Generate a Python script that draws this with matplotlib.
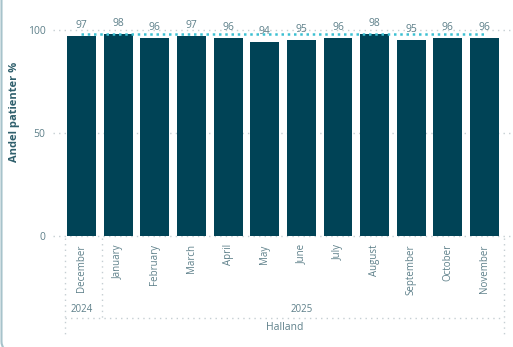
import matplotlib.pyplot as plt
import matplotlib.patches as patches
import matplotlib.transforms as mtransforms

months = ['December', 'January', 'February', 'March', 'April', 'May', 'June',
          'July', 'August', 'September', 'October', 'November']
years = ['2024', '2025']
year_sizes = [1, 11]
values = [97, 98, 96, 97, 96, 94, 95, 96, 98, 95, 96, 96]
target = [98] * 12
region = 'Halland'

W, H = 513, 347
bar_color = '#004356'
text_color = '#5e808a'
grid_color = '#c5ced2'

plt.rcParams['font.family'] = ['Open Sans', 'DejaVu Sans']

fig = plt.figure(figsize=(W / 100, H / 100), dpi=100)

# axes placed in pixel units of the reference
x0, x1 = 65, 504
y0, y1 = 236, 30
ax = fig.add_axes([x0 / W, (H - y0) / H, (x1 - x0) / W, (y0 - y1) / H])
ax.set_xlim(-0.45, 11.53)
ax.set_ylim(0, 100)
for s in ax.spines.values():
    s.set_visible(False)

xs = list(range(len(months)))
bars = ax.bar(xs, values, width=0.79, color=bar_color, zorder=3)

# gridlines running out past the axes
blend = mtransforms.blended_transform_factory(ax.transAxes, ax.transData)
for gy in [0, 50, 100]:
    ax.plot([-12 / (x1 - x0), (W - x0) / (x1 - x0)], [gy, gy], transform=blend,
            ls=(0, (1, 3)), lw=1, color=grid_color, clip_on=False, zorder=1)

# target line
ax.plot(xs, target, ls=(0, (1, 1.5)), lw=1.8, color='#3cc0d2', zorder=4,
        clip_on=False)

for x, v in zip(xs, values):
    ax.annotate(str(v), (x, v), xytext=(0, 4), textcoords='offset points',
                ha='center', va='bottom', fontsize=7.5, color=text_color,
                annotation_clip=False)

ax.set_yticks([0, 50, 100])
ax.set_yticklabels(['0', '50', '100'], fontsize=7.5, color=text_color)
ax.tick_params(axis='y', length=0, pad=14)
ax.set_xticks(xs)
ax.set_xticklabels(months, rotation=90, fontsize=7, color=text_color, va='top')
ax.tick_params(axis='x', length=0, pad=6)

fig.text(15 / W, 1 - 112 / H, 'Andel patienter %', rotation=90, ha='center',
         va='center', fontsize=8, fontweight='bold', color='#2f5f6c')

# hierarchy lines below the axis (pixel coordinates)
def px_line(xa, ya, xb, yb):
    fig.add_artist(plt.Line2D([xa / W, xb / W], [1 - ya / H, 1 - yb / H],
                              ls=(0, (1, 3)), lw=1, color=grid_color))

px_line(x0, 238, x0, 337)
px_line(101.5, 238, 101.5, 318)
px_line(x1, 238, x1, 337)
px_line(x0, 318, x1, 318)

# year labels centred under their months
step = (x1 - x0) / (11.53 + 0.45)
start = 0
for yr, n in zip(years, year_sizes):
    cx = x0 + (0.45 + start + (n - 1) / 2) * step
    fig.text(cx / W, 1 - 309 / H, yr, ha='center', va='center', fontsize=7,
             color=text_color)
    start += n
fig.text((x0 + x1) / 2 / W, 1 - 328 / H, region, ha='center', va='center',
         fontsize=7.5, color=text_color)

# card border, bottom edge just off the canvas
border = patches.FancyBboxPatch((0.015, -0.035), 10, 10,
                                boxstyle='round,pad=0,rounding_size=0.09',
                                transform=fig.dpi_scale_trans, fill=False,
                                edgecolor='#a7c3cb', lw=1.5)
fig.add_artist(border)

fig.savefig('out.png', dpi=100)
